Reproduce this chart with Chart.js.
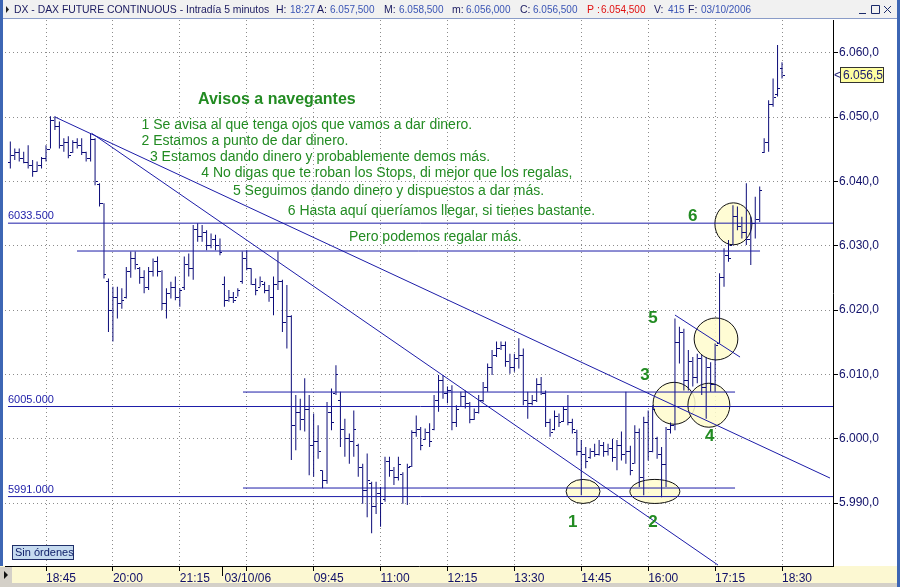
<!DOCTYPE html>
<html>
<head>
<meta charset="utf-8">
<script src="https://cdn.jsdelivr.net/npm/chart.js@4.4.0/dist/chart.umd.min.js"></script>
<style>
html, body { margin: 0; padding: 0; background: #fff; }
#wrap { width: 900px; height: 587px; }
</style>
</head>
<body>
<div id="wrap"><canvas id="dax" width="900" height="587"></canvas></div>
<script>
// DAX future continuo, barras de 5 minutos (02/10/06 18:05 -> 03/10/06 18:30)
var barOpen = [
  6043.0, 6044.0, 6044.5, 6043.5, 6043.0, 6042.5, 6041.5, 6042.5, 6043.5, 6045.0,
  6049.5, 6048.5, 6045.5, 6046.0, 6044.5, 6046.0, 6045.5, 6044.5, 6043.5, 6046.5,
  6039.5, 6036.5, 6024.5, 6020.0, 6022.0, 6021.0, 6022.0, 6026.0, 6028.0, 6026.5,
  6025.0, 6023.5, 6026.0, 6027.5, 6026.0, 6021.0, 6022.5, 6023.5, 6022.0, 6023.5,
  6027.0, 6026.5, 6032.5, 6031.5, 6032.0, 6030.0, 6031.0, 6030.0, 6024.0, 6021.5,
  6022.0, 6022.0, 6024.5, 6028.0, 6026.5, 6024.0, 6023.5, 6024.0, 6023.0, 6022.0,
  6024.0, 6024.5, 6018.0, 6019.0, 6002.0, 6004.0, 6003.0, 6004.5, 5999.0, 5999.5,
  5995.0, 5993.5, 6004.0, 6007.0, 6006.0, 6001.5, 6000.0, 5999.5, 5999.0, 5995.5,
  5992.0, 5993.0, 5989.5, 5991.5, 5990.5, 5996.5, 5995.0, 5994.0, 5994.5, 5991.0,
  5995.6, 6001.0, 6001.5, 5999.8, 6001.0, 6001.5, 6006.0, 6009.0, 6007.0, 6007.5,
  6002.5, 6005.0, 6006.5, 6005.5, 6003.0, 6004.0, 6006.0, 6008.0, 6011.0, 6013.0,
  6014.0, 6014.5, 6012.0, 6011.0, 6012.5, 6013.0, 6006.0, 6005.5, 6006.0, 6008.5,
  6007.0, 6002.5, 6001.5, 6003.5, 6002.6, 6004.5, 6002.5, 6001.0, 5998.0, 5997.5,
  5997.0, 5998.0, 5997.5, 5999.0, 5998.0, 5998.5, 5997.0, 5999.0, 5997.5, 5998.0,
  5996.1, 6001.0, 5994.0, 6002.5, 5998.0, 6000.0, 5997.5, 5996.0, 6001.5, 6002.0,
  6015.0, 6016.5, 6009.0, 6012.0, 6009.5, 6012.5, 6008.0, 6011.0, 6008.5, 6014.8,
  6025.0, 6028.5, 6030.1, 6034.5, 6033.0, 6032.0, 6031.0, 6033.5, 6034.0, 6044.5,
  6046.0, 6052.0, 6053.5, 6057.5
];
var barHigh = [
  6046.2, 6045.1, 6045.1, 6044.6, 6045.6, 6043.3, 6043.1, 6043.8, 6045.6, 6050.1,
  6050.1, 6049.3, 6046.7, 6047.0, 6046.4, 6046.7, 6046.7, 6044.6, 6047.5, 6046.7,
  6039.7, 6036.6, 6024.9, 6023.6, 6023.6, 6023.4, 6026.7, 6029.1, 6029.1, 6026.7,
  6026.2, 6026.7, 6028.0, 6028.3, 6026.2, 6023.4, 6024.4, 6025.2, 6023.4, 6028.3,
  6028.8, 6033.2, 6033.5, 6033.2, 6032.4, 6031.9, 6031.7, 6031.1, 6025.2, 6023.1,
  6022.8, 6023.4, 6029.1, 6029.3, 6026.5, 6024.9, 6025.2, 6024.4, 6023.9, 6025.2,
  6029.1, 6024.7, 6023.9, 6019.2, 6006.8, 6006.2, 6009.4, 6006.8, 6003.9, 6002.1,
  5995.1, 6005.7, 6007.8, 6011.4, 6007.3, 6003.1, 6000.8, 6004.4, 5999.2, 5996.1,
  5997.7, 5993.3, 5993.3, 5992.5, 5997.2, 5997.2, 5995.6, 5997.2, 5994.8, 5996.1,
  6001.3, 6003.6, 6001.8, 6001.6, 6002.4, 6006.8, 6009.9, 6009.9, 6008.1, 6008.3,
  6005.2, 6007.3, 6007.5, 6005.7, 6004.7, 6006.8, 6008.8, 6011.7, 6013.8, 6015.1,
  6015.1, 6015.1, 6013.2, 6013.2, 6015.6, 6014.0, 6007.3, 6006.8, 6009.4, 6009.6,
  6007.5, 6003.1, 6004.4, 6003.9, 6005.0, 6006.8, 6003.1, 6001.4, 5999.8, 5998.7,
  5998.5, 5999.2, 5999.8, 5999.5, 5999.2, 6000.0, 5999.8, 6001.1, 6007.3, 5998.9,
  6002.1, 6001.6, 6003.4, 6004.4, 6005.2, 6000.3, 5998.7, 6001.8, 6002.5, 6018.7,
  6017.4, 6017.1, 6013.8, 6012.7, 6013.2, 6013.0, 6012.7, 6011.9, 6014.8, 6025.7,
  6029.6, 6030.9, 6036.3, 6036.1, 6034.5, 6039.7, 6034.5, 6037.6, 6039.2, 6046.7,
  6052.6, 6056.0, 6061.2, 6058.5
];
var barLow = [
  6042.0, 6043.3, 6043.1, 6042.8, 6042.0, 6040.7, 6041.5, 6042.0, 6043.1, 6045.1,
  6048.0, 6045.1, 6044.6, 6043.6, 6044.4, 6045.1, 6044.1, 6043.1, 6043.1, 6039.4,
  6036.1, 6024.9, 6016.6, 6015.1, 6018.7, 6020.2, 6021.8, 6025.0, 6026.3, 6024.1,
  6022.6, 6023.1, 6025.2, 6025.2, 6020.0, 6018.7, 6021.8, 6021.5, 6020.5, 6023.1,
  6025.2, 6024.7, 6030.6, 6030.6, 6029.3, 6029.6, 6029.3, 6028.5, 6020.5, 6021.3,
  6021.1, 6022.1, 6024.1, 6026.2, 6023.9, 6022.3, 6023.6, 6022.6, 6021.3, 6019.2,
  6023.1, 6016.6, 6014.0, 5996.7, 5998.2, 6001.3, 6001.1, 5994.3, 5994.1, 5996.9,
  5992.3, 5993.0, 6001.3, 6006.8, 5998.7, 5997.2, 5996.1, 5997.2, 5994.1, 5989.9,
  5987.8, 5985.3, 5988.3, 5986.3, 5990.2, 5994.1, 5992.8, 5993.5, 5989.9, 5989.7,
  5995.6, 6000.3, 5998.2, 5999.8, 5998.7, 6001.3, 6004.2, 6006.2, 6005.5, 6001.3,
  6001.8, 6005.0, 6004.7, 6002.4, 6002.9, 6003.9, 6005.7, 6007.3, 6009.9, 6012.7,
  6013.8, 6011.2, 6010.1, 6010.4, 6010.9, 6005.2, 6003.1, 6005.2, 6005.7, 6006.8,
  6001.8, 6000.3, 6001.3, 6001.8, 6002.6, 6002.1, 6000.8, 5997.4, 5991.2, 5995.4,
  5996.9, 5997.2, 5997.4, 5997.2, 5997.4, 5996.4, 5995.1, 5996.6, 5996.1, 5994.3,
  5996.1, 5992.5, 5991.2, 5996.6, 5997.9, 5996.9, 5990.9, 5992.5, 6000.8, 6001.3,
  6011.7, 6007.5, 6007.5, 6008.1, 6008.6, 6006.8, 6003.1, 6007.3, 6007.3, 6014.8,
  6023.6, 6027.5, 6030.1, 6032.4, 6031.1, 6030.1, 6027.0, 6031.1, 6033.7, 6044.4,
  6044.6, 6051.6, 6053.2, 6056.0
];
var barClose = [
  6044.0, 6044.5, 6043.5, 6043.0, 6042.5, 6041.5, 6042.5, 6043.5, 6045.0, 6049.5,
  6048.5, 6045.5, 6046.0, 6044.0, 6046.0, 6045.5, 6044.5, 6043.5, 6046.5, 6040.0,
  6036.5, 6025.5, 6020.0, 6022.0, 6021.0, 6021.5, 6026.0, 6028.0, 6027.0, 6025.0,
  6023.5, 6026.0, 6027.5, 6026.0, 6021.0, 6022.5, 6023.5, 6022.0, 6023.0, 6027.0,
  6026.5, 6032.5, 6031.5, 6032.0, 6030.0, 6031.0, 6030.0, 6029.0, 6021.5, 6022.0,
  6021.5, 6023.0, 6028.0, 6026.5, 6024.0, 6023.0, 6024.5, 6023.0, 6022.0, 6024.0,
  6024.5, 6018.0, 6019.0, 6002.0, 6004.0, 6003.0, 6004.5, 5999.0, 5999.5, 5998.0,
  5993.5, 6004.0, 6002.5, 6010.0, 6001.5, 6000.0, 5999.5, 6001.5, 5995.5, 5992.0,
  5993.5, 5989.5, 5991.5, 5990.0, 5996.5, 5995.0, 5994.0, 5996.0, 5991.0, 5995.5,
  6001.0, 6001.5, 5999.0, 6001.0, 5999.5, 6006.0, 6009.0, 6007.0, 6007.5, 6002.5,
  6004.5, 6006.5, 6005.5, 6003.0, 6004.0, 6006.0, 6008.0, 6011.0, 6013.0, 6014.0,
  6014.5, 6012.0, 6011.0, 6012.5, 6013.0, 6006.0, 6005.5, 6006.0, 6008.5, 6007.0,
  6002.5, 6001.0, 6003.5, 6002.5, 6004.5, 6002.5, 6001.5, 5998.0, 5997.5, 5996.5,
  5998.0, 5997.5, 5999.0, 5998.0, 5998.5, 5997.0, 5999.0, 5997.5, 5998.0, 5995.0,
  6001.0, 5994.0, 6002.5, 5998.0, 6004.5, 5997.5, 5996.0, 6001.5, 6002.0, 6015.0,
  6016.5, 6009.0, 6012.0, 6009.5, 6012.5, 6008.0, 6011.0, 6008.5, 6014.5, 6025.0,
  6028.5, 6028.0, 6034.5, 6033.0, 6032.0, 6031.0, 6033.5, 6034.0, 6038.5, 6046.0,
  6052.0, 6053.0, 6054.5, 6056.5
];
var lastVolume = 415;
var lastTime = '18:27';
var lastDate = '03/10/2006';

// eje de tiempo: posiciones (n. de barra) y textos
var xTickPos = [8, 23, 38, 48, 53, 68, 83, 98, 113, 128, 143, 158, 173];
var xTickLabels = ['18:45', '20:00', '21:15', '03/10/06', '', '09:45', '11:00', '12:15', '13:30', '14:45', '16:00', '17:15', '18:30'];
var dayBreak = 48;
var yTicks = [5990, 6000, 6010, 6020, 6030, 6040, 6050, 6060];

// niveles horizontales
var levelValues = [6033.5, 6029.17, 6007.25, 6005.0, 5992.33, 5991.0];
var levelFrom = [-0.52, 14.95, 52.16, -0.52, 52.16, -0.52];
var levelTo = [184.43, 168.07, 162.47, 184.43, 162.47, 184.43];
var levelTags = ['6033.500', '', '', '6005.000', '', '5991.000'];

// lineas de tendencia: barra/valor de inicio y de fin
var trendFromBar = [10.02, 18.25, 149.0];
var trendFromValue = [6050.0, 6047.47, 6019.22];
var trendToBar = [183.76, 158.65, 163.59];
var trendToValue = [5993.88, 5980.36, 6012.69];

// circulos de los avisos
var circleBar = [128.4, 144.5, 148.8, 156.6, 158.2, 162.1];
var circleValue = [5991.8, 5991.8, 6005.5, 6005.2, 6015.5, 6033.4];
var circleHalfBars = [3.8, 5.6, 4.7, 4.7, 4.9, 4.15];
var circleHalfPoints = [1.87, 1.87, 3.26, 3.42, 3.26, 3.26];

// numeros de los avisos
var stepLabels = ['1', '2', '3', '4', '5', '6'];
var stepBar = [126.1, 144.1, 142.3, 156.8, 144.1, 153.0];
var stepValue = [5987.0, 5987.0, 6009.9, 6000.4, 6018.7, 6034.6];

// texto
var noteTitle = 'Avisos a navegantes';
var noteTitleBar = 42.07, noteTitleValue = 6052.64;
var noteLines = [
  '1 Se avisa al que tenga ojos que vamos a dar dinero.',
  '2 Estamos a punto de dar dinero.',
  '3 Estamos dando dinero y probablemente demos más.',
  '4 No digas que te roban los Stops, di mejor que los regalas,',
  '5 Seguimos dando dinero y dispuestos a dar más.',
  '6 Hasta aquí queríamos llegar, si tienes bastante.',
  'Pero podemos regalar más.'
];
var noteBar = [29.4, 29.4, 31.3, 42.8, 49.9, 62.2, 75.9];
var noteValue = [6048.76, 6046.27, 6043.78, 6041.29, 6038.41, 6035.38, 6031.26];

var BAR_COLOR = '#0b0b78';
var LINE_COLOR = '#1c1ca8';
var GREEN = '#228b22';
var NAVY = '#1a1a60';
var FONT = '"Liberation Sans", Arial, sans-serif';

function fmtPrice(v, dec) {
  var s = v.toFixed(dec).split('.');
  var ent = s[0];
  if (ent.length > 3) ent = ent.slice(0, ent.length - 3) + '.' + ent.slice(-3);
  return ent + ',' + s[1];
}

function tickImage(side) {
  var c = document.createElement('canvas');
  c.width = 5; c.height = 1;
  var g = c.getContext('2d');
  g.fillStyle = BAR_COLOR;
  g.fillRect(side === 'open' ? 0 : 3, 0, 2, 1);
  return c;
}

var datasets = [];
levelValues.forEach(function (v, k) {
  datasets.push({
    type: 'line', data: [{x: levelFrom[k], y: v}, {x: levelTo[k], y: v}],
    borderColor: LINE_COLOR, borderWidth: 1, pointRadius: 0, order: 0
  });
});
trendFromBar.forEach(function (b, k) {
  datasets.push({
    type: 'line', data: [{x: b, y: trendFromValue[k]}, {x: trendToBar[k], y: trendToValue[k]}],
    borderColor: LINE_COLOR, borderWidth: 1, pointRadius: 0, order: 0
  });
});
datasets.push({
  type: 'bar',
  data: barHigh.map(function (h, i) { return {x: i, y: [barLow[i], h]}; }),
  backgroundColor: BAR_COLOR, barThickness: 1, inflateAmount: 0, order: 2
});
datasets.push({
  type: 'scatter',
  data: barOpen.map(function (o, i) { return {x: i, y: o}; }),
  pointStyle: tickImage('open'), pointRadius: 2, order: 1
});
datasets.push({
  type: 'scatter',
  data: barClose.map(function (c, i) { return {x: i, y: c}; }),
  pointStyle: tickImage('close'), pointRadius: 2, order: 1
});

function toPx(chart, bar, value) {
  return [chart.scales.x.getPixelForValue(bar), chart.scales.y.getPixelForValue(value)];
}

var notesPlugin = {
  id: 'notes',
  beforeDatasetsDraw: function (chart) {
    var ctx = chart.ctx;
    ctx.save();
    circleBar.forEach(function (b, k) {
      var c = toPx(chart, b, circleValue[k]);
      var rx = Math.abs(chart.scales.x.getPixelForValue(b + circleHalfBars[k]) - c[0]);
      var ry = Math.abs(chart.scales.y.getPixelForValue(circleValue[k] + circleHalfPoints[k]) - c[1]);
      ctx.beginPath();
      ctx.ellipse(c[0], c[1], rx, ry, 0, 0, Math.PI * 2);
      ctx.fillStyle = 'rgba(255, 252, 205, 0.85)';
      ctx.fill();
      ctx.lineWidth = 1;
      ctx.strokeStyle = '#111';
      ctx.stroke();
    });
    ctx.restore();
    chart.ctx.imageSmoothingEnabled = false;
  },
  afterDatasetsDraw: function (chart) {
    var ctx = chart.ctx;
    ctx.save();
    ctx.textBaseline = 'middle';
    ctx.textAlign = 'left';
    var p = toPx(chart, noteTitleBar, noteTitleValue);
    ctx.fillStyle = GREEN;
    ctx.font = 'bold 16px ' + FONT;
    ctx.fillText(noteTitle, p[0], p[1]);
    ctx.font = '14px ' + FONT;
    noteLines.forEach(function (t, k) {
      var q = toPx(chart, noteBar[k], noteValue[k]);
      ctx.fillText(t, q[0], q[1]);
    });
    ctx.font = 'bold 17px ' + FONT;
    ctx.textAlign = 'center';
    stepLabels.forEach(function (t, k) {
      var q = toPx(chart, stepBar[k], stepValue[k]);
      ctx.fillText(t, q[0], q[1]);
    });
    // etiquetas de los niveles
    ctx.font = '11px ' + FONT;
    ctx.textAlign = 'left';
    ctx.textBaseline = 'alphabetic';
    ctx.fillStyle = LINE_COLOR;
    levelTags.forEach(function (t, k) {
      if (!t) return;
      var q = toPx(chart, levelFrom[k], levelValues[k]);
      ctx.fillText(t, q[0], q[1] - 4);
    });
    ctx.restore();
  }
};

var framePlugin = {
  id: 'frame',
  beforeDraw: function (chart) {
    var ctx = chart.ctx, a = chart.chartArea;
    ctx.save();
    ctx.fillStyle = '#fff';
    ctx.fillRect(0, 0, 900, 587);
    ctx.fillStyle = '#fcf8d2';
    ctx.fillRect(0, a.bottom, 900, 587 - a.bottom);
    ctx.restore();
  },
  afterDraw: function (chart) {
    var ctx = chart.ctx, a = chart.chartArea;
    var n = barClose.length - 1;
    ctx.save();
    // cabecera
    ctx.fillStyle = '#f1f1f1';
    ctx.fillRect(0, 0, 900, 19);
    ctx.fillStyle = '#8a9cc8';
    ctx.fillRect(0, 18, 900, 1);
    ctx.fillStyle = '#222';
    ctx.beginPath();
    ctx.moveTo(6, 6); ctx.lineTo(9, 9.5); ctx.lineTo(6, 13); ctx.closePath(); ctx.fill();
    ctx.textBaseline = 'middle';
    ctx.font = '10.4px ' + FONT;
    ctx.fillStyle = NAVY;
    ctx.fillText('DX - DAX FUTURE CONTINUOUS - Intradía 5 minutos', 14, 10);
    var blue = '#3a55b5', red = '#e01010';
    var labelFont = '10.5px ' + FONT, valueFont = '10px ' + FONT;
    var parts = [
      ['H:', 276, NAVY, labelFont], [lastTime, 290, blue, valueFont],
      ['A:', 317, NAVY, labelFont], [fmtPrice(barOpen[n], 3), 330, blue, valueFont],
      ['M:', 384, NAVY, labelFont], [fmtPrice(barHigh[n], 3), 399, blue, valueFont],
      ['m:', 452, NAVY, labelFont], [fmtPrice(barLow[n], 3), 466, blue, valueFont],
      ['C:', 520, NAVY, labelFont], [fmtPrice(barClose[n], 3), 533, blue, valueFont],
      ['P', 587, red, labelFont], [':', 597, red, labelFont], [fmtPrice(barClose[n - 1], 3), 601, red, valueFont],
      ['V:', 654, NAVY, labelFont], [String(lastVolume), 668, blue, valueFont],
      ['F:', 688, NAVY, labelFont], [lastDate, 701, blue, valueFont]
    ];
    parts.forEach(function (s) { ctx.font = s[3]; ctx.fillStyle = s[2]; ctx.fillText(s[0], s[1], 10); });
    // botones de ventana
    ctx.strokeStyle = '#1a2a6a';
    ctx.lineWidth = 1;
    ctx.beginPath();
    ctx.moveTo(859, 13.5); ctx.lineTo(866, 13.5);
    ctx.rect(871.5, 5.5, 8, 8);
    ctx.moveTo(884, 6); ctx.lineTo(891, 13);
    ctx.moveTo(891, 6); ctx.lineTo(884, 13);
    ctx.stroke();
    // marco lateral
    ctx.fillStyle = '#3d66b4';
    ctx.fillRect(0, 0, 3, a.bottom);
    ctx.fillRect(897, 0, 3, 587);
    // separador de dia
    var xd = Math.round(chart.scales.x.getPixelForValue(dayBreak - 0.5)) + 0.5;
    ctx.strokeStyle = '#000';
    ctx.beginPath();
    ctx.moveTo(xd, a.bottom); ctx.lineTo(xd, a.bottom + 10);
    ctx.stroke();
    // esquina inferior izquierda
    ctx.fillStyle = '#d4d0c8';
    ctx.fillRect(0, a.bottom + 1, 12, 16);
    ctx.fillRect(0, 583, 897, 4);
    ctx.fillStyle = '#111';
    ctx.beginPath();
    ctx.moveTo(4, a.bottom + 5); ctx.lineTo(8, a.bottom + 9); ctx.lineTo(4, a.bottom + 13); ctx.closePath(); ctx.fill();
    // boton "Sin ordenes"
    ctx.fillStyle = '#c6dbf0';
    ctx.fillRect(12, 545, 62, 15);
    ctx.strokeStyle = '#20306a';
    ctx.strokeRect(12.5, 545.5, 61, 14);
    ctx.fillStyle = '#10206a';
    ctx.font = '11px ' + FONT;
    ctx.fillText('Sin órdenes', 15, 553);
    // precio actual
    var yp = chart.scales.y.getPixelForValue(barClose[n]);
    ctx.fillStyle = '#ffffa0';
    ctx.fillRect(840.5, yp - 8, 43, 15);
    ctx.strokeStyle = '#333';
    ctx.strokeRect(840.5, Math.round(yp - 8) + 0.5, 43, 15);
    ctx.fillStyle = '#1a1a70';
    ctx.font = '12px ' + FONT;
    ctx.fillText(fmtPrice(barClose[n], 1), 843, yp);
    ctx.fillText('<', 834, yp);
    ctx.restore();
  }
};

new Chart(document.getElementById('dax'), {
  type: 'bar',
  data: {datasets: datasets},
  plugins: [framePlugin, notesPlugin],
  options: {
    responsive: false,
    animation: false,
    events: [],
    layout: {padding: {left: 5, top: 20, right: 0, bottom: 0}},
    plugins: {legend: {display: false}, tooltip: {enabled: false}},
    scales: {
      x: {
        type: 'linear', offset: false, min: -1.192, max: 184.43,
        afterBuildTicks: function (scale) {
          scale.ticks = xTickPos.map(function (v) { return {value: v}; });
        },
        afterFit: function (scale) { scale.height = 21; },
        grid: {
          offset: false,
          color: function (c) { return c.tick && c.tick.value === dayBreak ? 'rgba(0,0,0,0)' : '#8c8c8c'; },
          tickColor: function (c) { return c.tick && c.tick.value === dayBreak ? 'rgba(0,0,0,0)' : '#000'; },
          tickLength: 5, lineWidth: 1
        },
        border: {color: '#000', width: 1, dash: [1, 3]},
        ticks: {
          autoSkip: false, maxRotation: 0, align: 'start', padding: 0,
          color: '#10106a', font: {family: FONT, size: 12},
          callback: function (value) {
            var k = xTickPos.indexOf(value);
            return k >= 0 ? xTickLabels[k] : '';
          }
        }
      },
      y: {
        type: 'linear', position: 'right', min: 5980.21, max: 6065.08,
        afterBuildTicks: function (scale) {
          scale.ticks = yTicks.map(function (v) { return {value: v}; });
        },
        afterFit: function (scale) { scale.width = 67; },
        grid: {color: '#8c8c8c', tickColor: '#000', tickLength: 5, lineWidth: 1},
        border: {color: '#000', width: 1, dash: [1, 3]},
        ticks: {
          padding: 1, color: '#10106a', font: {family: FONT, size: 12},
          callback: function (value) { return fmtPrice(value, 1); }
        }
      }
    }
  }
});
</script>
</body>
</html>
